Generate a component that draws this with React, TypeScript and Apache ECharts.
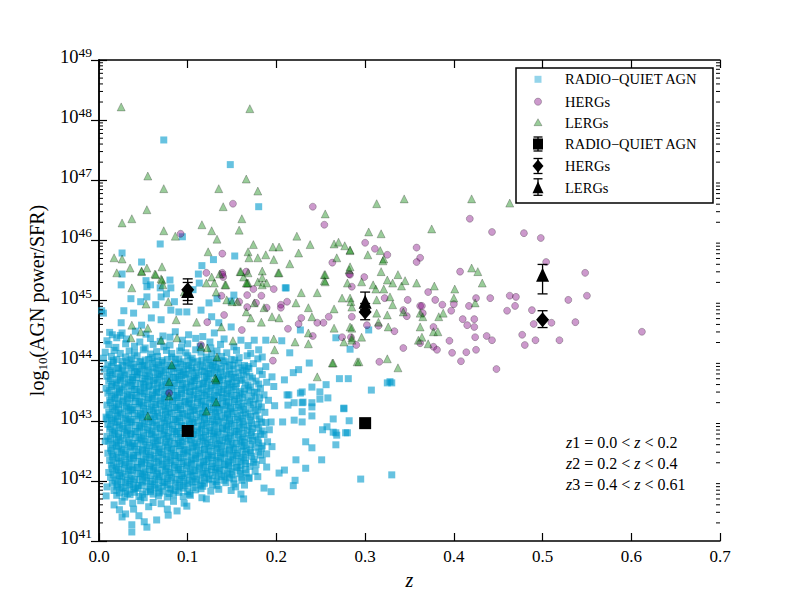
import React, { useEffect, useRef } from "react";
import * as echarts from "echarts";

const FONT = "Liberation Serif";

const xMin = 0;
const xMax = 0.7;
const yMin = 41;
const yMax = 49;

// Radio-quiet AGN: scattered points [z, log10(power/SFR)]
const blueSparse = [
  [.073,47.67],[.148,47.26],[.18,46.56],[.094,46.06],[.069,45.94],[.026,45.79],[.048,45.64],[.129,45.68],[.153,45.74],[.116,45.58],
  [.026,45.44],[.025,45.26],[.053,45.33],[.058,45.26],[.054,45.23],[.08,45.34],[.081,45.21],[.112,45.44],[.113,45.29],[.21,45.21],
  [.069,45.21],[.076,45.11],[.07,45.06],[.036,45.03],[.047,44.98],[.054,45.06],[.064,44.93],[.085,44.98],[.081,44.84],[.09,44.81],
  [.099,44.81],[.005,44.79],[.028,44.83],[.039,44.79],[.059,44.71],[.07,44.68],[.048,44.59],[.025,44.63],[.015,44.43],[.026,44.46],
  [.106,45.18],[.115,44.84],[.124,44.96],[.133,45.03],[.127,44.73],[.135,44.63],[.149,44.56],[.152,45.09],[.16,44.34],[.175,44.34],
  [.188,44.34],[.206,44.33],[.215,44.13],[.18,44.18],[.184,44.06],[.188,43.9],[.195,43.73],[.209,43.68],[.219,43.8],[.225,43.85],
  [.237,43.96],[.256,43.6],[.271,43.7],[.281,43.7],[.283,44.19],[.267,44.38],[.212,43.43],[.229,43.48],[.24,43.56],[.24,43.3],
  [.23,43.31],[.22,43.3],[.211,45.21],[.227,44.51],[.304,44.51],[.328,43.65],[.307,43.51],[.276,43.21],[.282,43.0],[.264,43.03],
  [.28,42.8],[.268,42.76],[.264,42.81],[.214,43.43],[.227,43.46],[.249,43.48],[.258,43.38],[.249,43.36],[.229,43.3],[.213,43.26],
  [.24,43.23],[.229,43.15],[.24,43.08],[.22,43.01],[.229,42.98],[.207,42.98],[.194,42.98],[.276,43.2],[.257,42.9],[.252,42.85],
  [.267,42.8],[.278,42.8],[.267,42.6],[.251,42.35],[.233,42.21],[.24,42.55],[.233,42.65],[.222,42.35],[.221,42.01],[.219,41.92],
  [.209,42.18],[.203,42.13],[.186,41.88],[.194,41.82],[.16,41.78],[.163,41.7],[.295,42.03],[.33,42.1],[.325,43.63],[.33,43.63],
  [.037,41.15],[.037,41.27],[.054,41.23],[.051,41.32],[.078,41.43],[.077,41.53],[.099,41.58],[.121,41.7],[.026,41.4],[.023,41.52],
  [.039,41.53],[.056,41.57],[.008,41.75],[.009,41.9],[.007,42.66],[.009,43.03],[.169,42.06],[.161,42.01],[.154,41.9],[.003,44.83],
  [.149,44.99],[.03,41.45],[.065,41.35],[.045,41.42],[.088,41.5],[.017,41.6]
];

// Radio-quiet AGN: dense cloud, flat list z, log, z, log ...
const blueCore = [
  .012,44.47,.024,44.42,.041,44.49,.053,44.44,.072,44.41,.086,44.48,.101,44.43,.13,44.46,.117,44.4,
  .009,44.33,.02,44.38,.031,44.36,.046,44.31,.058,44.37,.069,44.32,.08,44.39,.094,44.34,.109,44.37,.125,44.31,.141,44.36,
  .011,44.27,.019,44.22,.03,44.28,.04,44.24,.052,44.21,.061,44.27,.073,44.23,.08,44.26,.093,44.22,.1,44.28,.114,44.24,.126,44.21,.137,44.27,.152,44.23,.168,44.25,
  .007,44.14,.017,44.17,.024,44.12,.034,44.16,.04,44.13,.05,44.18,.058,44.11,.065,44.15,.076,44.17,.082,44.12,.091,44.16,.098,44.13,.109,44.18,.115,44.14,.127,44.11,.133,44.16,.144,44.13,.155,44.17,.171,44.12,
  .005,44.04,.014,44.07,.02,44.02,.03,44.06,.037,44.03,.043,44.08,.052,44.01,.06,44.05,.066,44.07,.077,44.02,.082,44.06,.09,44.03,.1,44.08,.105,44.04,.116,44.01,.121,44.06,.132,44.03,.138,44.07,.149,44.02,.158,44.05,.167,44.08,.179,44.03,
  .01,43.93,.016,43.97,.026,43.92,.031,43.96,.039,43.94,.046,43.98,.051,43.91,.06,43.95,.067,43.93,.071,43.97,.08,43.92,.087,43.96,.092,43.94,.101,43.91,.106,43.97,.114,43.93,.121,43.96,.126,43.92,.135,43.95,.142,43.98,.147,43.93,.157,43.96,.164,43.92,.174,43.95,
  .006,43.86,.013,43.83,.022,43.87,.027,43.84,.036,43.88,.043,43.82,.048,43.86,.056,43.84,.063,43.88,.07,43.83,.075,43.85,.084,43.87,.091,43.82,.096,43.86,.105,43.84,.11,43.88,.119,43.83,.124,43.86,.133,43.84,.138,43.87,.147,43.82,.152,43.86,.162,43.84,.169,43.87,.181,43.83,
  .009,43.74,.015,43.77,.024,43.73,.029,43.76,.038,43.72,.043,43.77,.052,43.75,.057,43.73,.066,43.77,.07,43.74,.079,43.76,.084,43.72,.093,43.75,.098,43.77,.107,43.73,.112,43.76,.121,43.74,.126,43.78,.135,43.72,.14,43.75,.149,43.77,.154,43.73,.163,43.76,.17,43.74,.184,43.77,
  .011,43.66,.019,43.63,.024,43.67,.033,43.64,.038,43.68,.047,43.62,.052,43.65,.061,43.67,.066,43.63,.075,43.66,.08,43.64,.089,43.68,.094,43.62,.103,43.65,.108,43.67,.117,43.63,.122,43.66,.131,43.64,.136,43.68,.145,43.62,.15,43.65,.159,43.67,.165,43.63,.177,43.66,.189,43.64,
  .008,43.54,.014,43.57,.023,43.53,.028,43.56,.037,43.58,.042,43.52,.051,43.55,.056,43.57,.065,43.53,.07,43.56,.079,43.54,.084,43.58,.093,43.52,.098,43.55,.107,43.57,.112,43.53,.121,43.56,.126,43.54,.135,43.58,.14,43.52,.149,43.55,.154,43.57,.164,43.53,.171,43.56,.182,43.54,.197,43.57,
  .01,43.46,.018,43.43,.023,43.47,.032,43.44,.037,43.42,.046,43.48,.051,43.45,.06,43.43,.065,43.47,.074,43.44,.079,43.46,.088,43.42,.093,43.45,.102,43.48,.107,43.43,.116,43.46,.121,43.44,.13,43.42,.135,43.47,.144,43.45,.149,43.43,.158,43.46,.164,43.44,.175,43.47,.186,43.43,
  .012,43.34,.018,43.37,.027,43.33,.032,43.36,.041,43.38,.046,43.32,.055,43.35,.06,43.37,.069,43.33,.074,43.36,.083,43.34,.088,43.38,.097,43.32,.102,43.35,.111,43.37,.116,43.33,.125,43.36,.13,43.34,.139,43.38,.144,43.32,.153,43.35,.158,43.37,.168,43.33,.176,43.36,.191,43.34,
  .009,43.26,.017,43.23,.022,43.27,.031,43.24,.036,43.22,.045,43.28,.05,43.25,.059,43.23,.064,43.27,.073,43.24,.078,43.26,.087,43.22,.092,43.25,.101,43.28,.106,43.23,.115,43.26,.12,43.24,.129,43.22,.134,43.27,.143,43.25,.148,43.23,.157,43.26,.163,43.24,.174,43.27,.183,43.23,.198,43.25,
  .011,43.14,.019,43.17,.024,43.13,.033,43.16,.038,43.18,.047,43.12,.052,43.15,.061,43.17,.066,43.13,.075,43.16,.08,43.14,.089,43.18,.094,43.12,.103,43.15,.108,43.17,.117,43.13,.122,43.16,.131,43.14,.136,43.18,.145,43.12,.15,43.15,.159,43.17,.165,43.13,.176,43.16,.187,43.14,
  .008,43.06,.016,43.03,.021,43.07,.03,43.04,.035,43.02,.044,43.08,.049,43.05,.058,43.03,.063,43.07,.072,43.04,.077,43.06,.086,43.02,.091,43.05,.1,43.08,.105,43.03,.114,43.06,.119,43.04,.128,43.02,.133,43.07,.142,43.05,.147,43.03,.156,43.06,.162,43.04,.171,43.07,.181,43.03,
  .01,42.94,.018,42.97,.023,42.93,.032,42.96,.037,42.98,.046,42.92,.051,42.95,.06,42.97,.065,42.93,.074,42.96,.079,42.94,.088,42.98,.093,42.92,.102,42.95,.107,42.97,.116,42.93,.121,42.96,.13,42.94,.135,42.98,.144,42.92,.149,42.95,.158,42.97,.163,42.93,.172,42.96,.178,42.94,.188,42.97,
  .012,42.86,.018,42.83,.027,42.87,.032,42.84,.041,42.82,.046,42.88,.055,42.85,.06,42.83,.069,42.87,.074,42.84,.083,42.86,.088,42.82,.097,42.85,.102,42.88,.111,42.83,.116,42.86,.125,42.84,.13,42.82,.139,42.87,.144,42.85,.153,42.83,.158,42.86,.167,42.84,.173,42.87,.184,42.83,.192,42.85,
  .009,42.74,.017,42.77,.022,42.73,.031,42.76,.036,42.78,.045,42.72,.05,42.75,.059,42.77,.064,42.73,.073,42.76,.078,42.74,.087,42.78,.092,42.72,.101,42.75,.106,42.77,.115,42.73,.12,42.76,.129,42.74,.134,42.78,.143,42.72,.148,42.75,.157,42.77,.162,42.73,.171,42.76,.177,42.74,.186,42.77,
  .011,42.66,.019,42.63,.024,42.67,.033,42.64,.038,42.62,.047,42.68,.052,42.65,.061,42.63,.066,42.67,.075,42.64,.08,42.66,.089,42.62,.094,42.65,.103,42.68,.108,42.63,.117,42.66,.122,42.64,.131,42.62,.136,42.67,.145,42.65,.15,42.63,.159,42.66,.164,42.64,.173,42.67,.18,42.63,.19,42.65,
  .013,42.54,.02,42.57,.026,42.53,.035,42.56,.04,42.58,.049,42.52,.054,42.55,.063,42.57,.068,42.53,.077,42.56,.082,42.54,.091,42.58,.096,42.52,.105,42.55,.11,42.57,.119,42.53,.124,42.56,.133,42.54,.138,42.58,.147,42.52,.152,42.55,.161,42.57,.166,42.53,.176,42.56,.183,42.54,.195,42.57,
  .01,42.46,.016,42.43,.025,42.47,.03,42.44,.039,42.42,.044,42.48,.053,42.45,.058,42.43,.067,42.47,.072,42.44,.081,42.46,.086,42.42,.095,42.45,.1,42.48,.109,42.43,.114,42.46,.123,42.44,.128,42.42,.137,42.47,.142,42.45,.151,42.43,.156,42.46,.165,42.44,.171,42.47,.182,42.43,.189,42.45,
  .012,42.34,.02,42.37,.025,42.33,.034,42.36,.039,42.38,.048,42.32,.053,42.35,.062,42.37,.067,42.33,.076,42.36,.081,42.34,.09,42.38,.095,42.32,.104,42.35,.109,42.37,.118,42.33,.123,42.36,.132,42.34,.137,42.38,.146,42.32,.151,42.35,.16,42.37,.165,42.33,.175,42.36,.184,42.34,
  .014,42.26,.02,42.23,.029,42.27,.034,42.24,.043,42.22,.048,42.28,.057,42.25,.062,42.23,.071,42.27,.076,42.24,.085,42.26,.09,42.22,.099,42.25,.104,42.28,.113,42.23,.118,42.26,.127,42.24,.132,42.22,.141,42.27,.146,42.25,.155,42.23,.16,42.26,.17,42.24,.177,42.27,.189,42.23,
  .011,42.14,.019,42.17,.024,42.13,.033,42.16,.038,42.18,.047,42.12,.052,42.15,.061,42.17,.066,42.13,.075,42.16,.08,42.14,.089,42.18,.094,42.12,.103,42.15,.108,42.17,.117,42.13,.122,42.16,.131,42.14,.136,42.18,.145,42.12,.15,42.15,.159,42.17,.166,42.13,.176,42.16,
  .013,42.06,.021,42.03,.026,42.07,.035,42.04,.04,42.02,.049,42.08,.054,42.05,.063,42.03,.068,42.07,.077,42.04,.082,42.06,.091,42.02,.096,42.05,.105,42.08,.11,42.03,.119,42.06,.124,42.04,.133,42.02,.138,42.07,.147,42.05,.152,42.03,.161,42.06,.169,42.04,.179,42.07,
  .015,41.96,.021,41.93,.03,41.97,.035,41.94,.044,41.92,.049,41.98,.058,41.95,.063,41.93,.072,41.97,.077,41.94,.086,41.96,.091,41.92,.1,41.95,.105,41.98,.114,41.93,.119,41.96,.128,41.94,.133,41.92,.143,41.97,.152,41.95,.164,41.93,
  .017,41.84,.025,41.87,.03,41.83,.039,41.86,.044,41.88,.053,41.82,.058,41.85,.067,41.87,.072,41.83,.081,41.86,.086,41.84,.095,41.88,.1,41.82,.109,41.85,.115,41.87,.126,41.83,.135,41.86,.149,41.84,
  .02,41.76,.029,41.73,.035,41.77,.045,41.74,.051,41.72,.061,41.78,.067,41.75,.077,41.73,.084,41.77,.095,41.74,.103,41.76,.116,41.72,
  .026,41.66,.038,41.63,.047,41.67,.061,41.64,.07,41.62,.084,41.66,.096,41.63
];

// Radio-quiet AGN: densest part of the cloud (second layer), flat list z, log ...
const blueDense = [
  .016,44.0,.027,43.99,.035,44.01,.047,43.98,.056,44.02,.063,43.99,.071,44.0,.086,44.02,.095,43.98,.103,44.01,.111,43.99,.124,44.02,.129,43.98,.14,44.0,.153,44.01,
  .014,43.9,.021,43.88,.033,43.91,.041,43.89,.049,43.92,.055,43.9,.065,43.88,.073,43.91,.081,43.9,.088,43.89,.099,43.92,.104,43.88,.117,43.9,.128,43.91,.131,43.89,.143,43.9,.151,43.92,.16,43.88,.168,43.9,
  .012,43.8,.019,43.79,.026,43.81,.034,43.78,.04,43.82,.046,43.8,.054,43.79,.061,43.81,.068,43.78,.073,43.8,.082,43.82,.089,43.79,.095,43.81,.101,43.78,.109,43.8,.116,43.82,.123,43.79,.13,43.8,.137,43.81,.144,43.78,.157,43.8,.166,43.81,
  .013,43.7,.021,43.69,.027,43.71,.035,43.68,.042,43.72,.049,43.7,.055,43.69,.063,43.71,.068,43.68,.077,43.7,.086,43.72,.091,43.69,.097,43.71,.105,43.68,.11,43.7,.119,43.72,.124,43.69,.133,43.71,.139,43.68,.146,43.7,.152,43.72,.161,43.69,.173,43.71,
  .015,43.6,.02,43.59,.029,43.61,.036,43.58,.041,43.62,.05,43.6,.057,43.59,.062,43.61,.071,43.58,.076,43.6,.085,43.62,.092,43.59,.099,43.61,.104,43.58,.113,43.6,.118,43.62,.127,43.59,.133,43.61,.141,43.58,.147,43.6,.155,43.62,.168,43.59,.18,43.61,
  .012,43.5,.02,43.49,.026,43.51,.034,43.48,.04,43.52,.047,43.5,.054,43.49,.061,43.51,.067,43.48,.075,43.5,.082,43.52,.088,43.49,.096,43.51,.103,43.48,.109,43.5,.117,43.52,.124,43.49,.131,43.51,.138,43.48,.145,43.5,.152,43.52,.16,43.49,.169,43.51,.178,43.48,
  .014,43.4,.021,43.39,.028,43.41,.035,43.38,.042,43.42,.049,43.4,.056,43.39,.063,43.41,.07,43.38,.077,43.4,.084,43.42,.091,43.39,.098,43.41,.105,43.38,.112,43.4,.119,43.42,.126,43.39,.133,43.41,.14,43.38,.147,43.4,.155,43.42,.162,43.39,.172,43.41,.181,43.38,
  .013,43.3,.02,43.29,.027,43.31,.034,43.28,.041,43.32,.048,43.3,.055,43.29,.062,43.31,.069,43.28,.076,43.3,.083,43.32,.09,43.29,.097,43.31,.104,43.28,.111,43.3,.118,43.32,.125,43.29,.132,43.31,.139,43.28,.146,43.3,.153,43.32,.161,43.29,.17,43.31,.18,43.28,
  .015,43.2,.022,43.19,.029,43.21,.036,43.18,.043,43.22,.05,43.2,.057,43.19,.064,43.21,.071,43.18,.078,43.2,.085,43.22,.092,43.19,.099,43.21,.106,43.18,.113,43.2,.12,43.22,.127,43.19,.134,43.21,.141,43.18,.148,43.2,.155,43.22,.163,43.19,.171,43.21,.179,43.18,
  .012,43.1,.019,43.09,.026,43.11,.033,43.08,.04,43.12,.047,43.1,.054,43.09,.061,43.11,.068,43.08,.075,43.1,.082,43.12,.089,43.09,.096,43.11,.103,43.08,.11,43.1,.117,43.12,.124,43.09,.131,43.11,.138,43.08,.145,43.1,.152,43.12,.16,43.09,.168,43.11,.177,43.08,
  .014,43.0,.021,42.99,.028,43.01,.035,42.98,.042,43.02,.049,43.0,.056,42.99,.063,43.01,.07,42.98,.077,43.0,.084,43.02,.091,42.99,.098,43.01,.105,42.98,.112,43.0,.119,43.02,.126,42.99,.133,43.01,.14,42.98,.147,43.0,.154,43.02,.162,42.99,.17,43.01,.183,42.98,
  .013,42.9,.02,42.89,.027,42.91,.034,42.88,.041,42.92,.048,42.9,.055,42.89,.062,42.91,.069,42.88,.076,42.9,.083,42.92,.09,42.89,.097,42.91,.104,42.88,.111,42.9,.118,42.92,.125,42.89,.132,42.91,.139,42.88,.146,42.9,.153,42.92,.161,42.89,.169,42.91,.18,42.88,
  .015,42.8,.022,42.79,.029,42.81,.036,42.78,.043,42.82,.05,42.8,.057,42.79,.064,42.81,.071,42.78,.078,42.8,.085,42.82,.092,42.79,.099,42.81,.106,42.78,.113,42.8,.12,42.82,.127,42.79,.134,42.81,.141,42.78,.148,42.8,.155,42.82,.163,42.79,.172,42.81,.182,42.78,
  .013,42.7,.02,42.69,.027,42.71,.034,42.68,.041,42.72,.048,42.7,.055,42.69,.062,42.71,.069,42.68,.076,42.7,.083,42.72,.09,42.69,.097,42.71,.104,42.68,.111,42.7,.118,42.72,.125,42.69,.132,42.71,.139,42.68,.146,42.7,.153,42.72,.161,42.69,.169,42.71,.179,42.68,
  .015,42.6,.022,42.59,.029,42.61,.036,42.58,.043,42.62,.05,42.6,.057,42.59,.064,42.61,.071,42.58,.078,42.6,.085,42.62,.092,42.59,.099,42.61,.106,42.58,.113,42.6,.12,42.62,.127,42.59,.134,42.61,.141,42.58,.148,42.6,.155,42.62,.163,42.59,.171,42.61,.184,42.58,
  .014,42.5,.021,42.49,.028,42.51,.035,42.48,.042,42.52,.049,42.5,.056,42.49,.063,42.51,.07,42.48,.077,42.5,.084,42.52,.091,42.49,.098,42.51,.105,42.48,.112,42.5,.119,42.52,.126,42.49,.133,42.51,.14,42.48,.147,42.5,.154,42.52,.162,42.49,.17,42.51,.18,42.48,
  .015,42.4,.022,42.39,.029,42.41,.036,42.38,.043,42.42,.05,42.4,.057,42.39,.064,42.41,.071,42.38,.078,42.4,.085,42.42,.092,42.39,.099,42.41,.106,42.38,.113,42.4,.12,42.42,.127,42.39,.134,42.41,.141,42.38,.148,42.4,.155,42.42,.163,42.39,.172,42.41,
  .016,42.3,.023,42.29,.03,42.31,.037,42.28,.044,42.32,.051,42.3,.058,42.29,.065,42.31,.072,42.28,.079,42.3,.086,42.32,.093,42.29,.1,42.31,.107,42.28,.114,42.3,.121,42.32,.128,42.29,.135,42.31,.142,42.28,.149,42.3,.157,42.32,.165,42.29,.174,42.31,
  .015,42.2,.022,42.19,.029,42.21,.036,42.18,.043,42.22,.05,42.2,.057,42.19,.064,42.21,.071,42.18,.078,42.2,.085,42.22,.092,42.19,.099,42.21,.106,42.18,.113,42.2,.12,42.22,.127,42.19,.134,42.21,.141,42.18,.148,42.2,.156,42.22,.165,42.19,
  .016,42.1,.023,42.09,.03,42.11,.037,42.08,.044,42.12,.051,42.1,.058,42.09,.065,42.11,.072,42.08,.079,42.1,.086,42.12,.093,42.09,.1,42.11,.107,42.08,.114,42.1,.121,42.12,.128,42.09,.135,42.11,.142,42.08,.15,42.1,.159,42.12,
  .018,42.0,.025,41.99,.032,42.01,.039,41.98,.046,42.02,.053,42.0,.06,41.99,.067,42.01,.074,41.98,.081,42.0,.088,42.02,.095,41.99,.102,42.01,.109,41.98,.116,42.0,.124,42.02,.132,41.99,.141,42.01,
  .02,41.9,.027,41.89,.034,41.91,.041,41.88,.048,41.92,.056,41.9,.064,41.89,.072,41.91,.08,41.88,.089,41.9,.097,41.92,.106,41.89,.117,41.91,
  .023,41.8,.032,41.79,.04,41.81,.049,41.78,.058,41.82,.068,41.8,.079,41.79,.09,41.81,.102,41.78
];

const hergs = [
  [.092,46.11],[.151,46.61],[.241,46.56],[.254,46.26],[.263,45.63],[.282,45.44],[.139,45.78],[.121,45.46],[.139,45.46],[.14,45.39],
  [.166,45.48],[.174,45.19],[.197,45.19],[.285,45.23],[.418,46.36],[.443,46.14],[.479,46.12],[.498,46.04],[.3,45.96],[.311,45.86],
  [.325,45.76],[.358,45.88],[.362,45.71],[.358,45.64],[.504,45.64],[.548,45.46],[.407,45.48],[.299,45.39],[.371,45.14],[.379,45.01],
  [.348,45.01],[.322,45.04],[.425,45.04],[.441,45.04],[.463,45.08],[.47,45.06],[.529,45.01],[.362,44.91],[.387,44.93],[.4,44.94],
  [.417,44.91],[.397,44.83],[.46,44.83],[.469,44.91],[.488,44.84],[.49,44.61],[.51,44.63],[.537,44.64],[.612,44.48],[.41,44.69],
  [.423,44.69],[.415,44.59],[.423,44.56],[.437,44.41],[.443,44.34],[.424,44.39],[.477,44.43],[.492,44.34],[.519,44.34],[.48,44.26],
  [.285,44.73],[.302,44.59],[.315,44.58],[.333,44.49],[.343,44.21],[.362,44.29],[.377,44.56],[.377,44.23],[.381,44.18],[.395,44.33],
  [.398,44.13],[.414,44.14],[.425,44.18],[.408,43.99],[.316,43.98],[.448,43.86],[.343,44.84],[.347,44.74],[.364,44.91],[.365,44.79],
  [.079,43.46],[.161,44.51],[.196,44.0],[.115,44.26],[.141,44.76],[.138,45.08],[.122,44.64],[.213,44.53],[.167,45.09],[.177,44.96],
  [.205,44.93],[.212,44.98],[.183,45.08],[.167,44.89],[.158,44.98],[.225,44.61],[.228,44.71],[.246,44.63],[.241,44.41],[.253,44.63],
  [.259,44.73],[.274,44.39],[.29,44.26],[.283,45.43],[.284,44.39],[.139,45.43],[.189,44.88],[.205,44.88],[.55,45.08]
];

const lergs = [
  [.025,48.22],[.17,48.19],[.055,47.07],[.073,46.86],[.054,46.51],[.135,46.86],[.166,47.02],[.179,46.82],[.14,46.56],[.255,46.44],
  [.026,46.29],[.037,46.36],[.161,46.36],[.116,46.26],[.073,46.16],[.086,46.07],[.127,46.16],[.133,46.02],[.158,46.17],[.223,46.07],
  [.238,45.93],[.174,45.93],[.196,45.89],[.203,45.89],[.265,45.94],[.27,45.97],[.277,45.91],[.283,45.83],[.225,45.79],[.168,45.81],
  [.123,45.81],[.017,45.71],[.026,45.69],[.035,45.54],[.02,45.46],[.048,45.49],[.054,45.54],[.063,45.44],[.071,45.56],[.07,45.36],
  [.072,45.26],[.169,45.71],[.179,45.71],[.188,45.76],[.197,45.68],[.159,45.48],[.168,45.46],[.184,45.49],[.202,45.46],[.215,45.61],
  [.268,45.71],[.282,45.51],[.254,45.43],[.254,45.33],[.28,45.29],[.136,45.44],[.127,45.39],[.142,45.26],[.168,45.29],[.179,45.31],
  [.189,45.29],[.163,45.39],[.037,45.21],[.121,45.29],[.313,46.61],[.344,46.69],[.42,46.69],[.463,46.62],[.375,46.19],[.304,46.14],
  [.318,46.11],[.283,45.84],[.303,45.76],[.317,45.83],[.321,45.69],[.32,45.66],[.283,45.56],[.42,45.54],[.427,45.48],[.432,45.29],
  [.318,45.48],[.337,45.43],[.325,45.34],[.331,45.29],[.345,45.33],[.341,45.24],[.358,45.29],[.296,45.31],[.309,45.26],[.378,45.24],
  [.401,45.19],[.4,45.04],[.274,45.04],[.283,45.04],[.285,44.89],[.312,45.19],[.321,45.19],[.328,45.06],[.331,44.93],[.313,45.01],
  [.313,44.79],[.325,44.76],[.315,44.64],[.343,44.81],[.362,44.79],[.365,44.73],[.383,44.73],[.388,44.79],[.424,44.96],[.283,44.56],
  [.296,44.39],[.285,44.34],[.326,44.56],[.362,44.56],[.364,44.39],[.377,44.48],[.382,44.48],[.371,44.28],[.36,44.34],[.291,43.98],
  [.325,44.03],[.337,43.88],[.264,43.96],[.053,44.94],[.078,44.98],[.087,44.68],[.037,44.59],[.055,44.54],[.036,44.38],[.07,44.34],
  [.088,44.38],[.047,44.48],[.11,44.64],[.115,44.23],[.122,44.21],[.133,44.06],[.082,43.93],[.079,43.65],[.131,43.71],[.138,44.56],
  [.151,44.33],[.197,44.36],[.198,44.18],[.221,44.31],[.246,43.73],[.263,43.96],[.246,45.13],[.228,45.13],[.24,44.73],[.236,44.46],
  [.236,44.28],[.079,43.41],[.055,43.08],[.121,43.16],[.132,43.31],[.132,43.68],[.048,45.48],[.064,45.43],[.071,45.34],[.096,45.14],
  [.13,45.29],[.143,45.26],[.16,45.48],[.167,45.29],[.184,45.38],[.203,45.46],[.132,45.14],[.144,45.01],[.15,44.98],[.156,44.98],
  [.175,44.96],[.186,44.88],[.195,44.73],[.203,44.71],[.222,44.96],[.236,44.88],[.255,45.43],[.255,45.31],[.284,44.98],[.265,44.86],
  [.265,44.54],[.285,44.54],[.285,44.38],[.276,44.31],[.183,44.64],[.171,44.71],[.166,44.81],[.166,45.29],[.184,45.26],[.293,43.98]
];

// Binned means: [z, value, lower, upper]
const meanRQ = [[0.1, 42.83, 42.81, 42.85], [0.3, 42.96, 42.93, 42.99]];
const meanHERG = [[0.1, 45.18, 45.0, 45.3], [0.3, 44.81, 44.68, 44.95], [0.5, 44.68, 44.55, 44.83]];
const meanLERG = [[0.1, 45.16, 44.94, 45.36], [0.3, 44.98, 44.85, 45.14], [0.5, 45.43, 45.11, 45.6]];

const legendLabels = ["RADIO\u2212QUIET AGN", "HERGs", "LERGs", "RADIO\u2212QUIET AGN", "HERGs", "LERGs"];
const zBins = [["1", "0.0", "0.2"], ["2", "0.2", "0.4"], ["3", "0.4", "0.61"]];

const BLUE = "rgb(0,153,204)";

function pairs(flat: number[]) {
  const out: number[][] = [];
  for (let i = 0; i + 1 < flat.length; i += 2) out.push([flat[i], flat[i + 1]]);
  return out;
}

function minorTickValues() {
  const out: number[][] = [];
  for (let n = yMin; n < yMax; n++) {
    for (let k = 2; k <= 9; k++) out.push([0, n + Math.log10(k)]);
  }
  return out;
}

function errorBarSeries(data: number[][]) {
  return {
    type: "custom",
    z: 4,
    silent: true,
    encode: { x: 0, y: [1, 2, 3] },
    data,
    renderItem: (params: any, api: any) => {
      const x = api.value(0);
      const lo = api.coord([x, api.value(2)]);
      const hi = api.coord([x, api.value(3)]);
      const cw = 5;
      const st = { stroke: "#000", lineWidth: 1.3 };
      return {
        type: "group",
        children: [
          { type: "line", shape: { x1: lo[0], y1: lo[1], x2: hi[0], y2: hi[1] }, style: st },
          { type: "line", shape: { x1: lo[0] - cw, y1: lo[1], x2: lo[0] + cw, y2: lo[1] }, style: st },
          { type: "line", shape: { x1: hi[0] - cw, y1: hi[1], x2: hi[0] + cw, y2: hi[1] }, style: st },
        ],
      };
    },
  };
}

function buildLegend() {
  const rows = [79.3, 101.7, 122.7, 144, 166, 188.3];
  const mx = 538;
  const tx = 565;
  const els: any[] = [
    { type: "rect", shape: { x: 516, y: 68, width: 197, height: 135 }, style: { fill: "#fff", stroke: "#000", lineWidth: 1.5 }, z: 100 },
    { type: "rect", shape: { x: mx - 3.5, y: rows[0] - 3.5, width: 7, height: 7 }, style: { fill: BLUE, opacity: 0.42 }, z: 101 },
    { type: "circle", shape: { cx: mx, cy: rows[1], r: 3.6 }, style: { fill: "purple", stroke: "#000", lineWidth: 0.6, opacity: 0.4 }, z: 101 },
    { type: "polygon", shape: { points: [[mx, rows[2] - 4], [mx + 4, rows[2] + 3], [mx - 4, rows[2] + 3]] }, style: { fill: "green", stroke: "#000", lineWidth: 0.6, opacity: 0.4 }, z: 101 },
  ];
  const bar = (cy: number, up: number, dn: number) => {
    const st = { stroke: "#000", lineWidth: 1.3 };
    els.push({ type: "line", shape: { x1: mx, y1: cy - up, x2: mx, y2: cy + dn }, style: st, z: 101 });
    els.push({ type: "line", shape: { x1: mx - 4.5, y1: cy - up, x2: mx + 4.5, y2: cy - up }, style: st, z: 101 });
    els.push({ type: "line", shape: { x1: mx - 4.5, y1: cy + dn, x2: mx + 4.5, y2: cy + dn }, style: st, z: 101 });
  };
  bar(rows[3], 7, 7);
  els.push({ type: "rect", shape: { x: mx - 5, y: rows[3] - 5.5, width: 10, height: 11 }, style: { fill: "#000" }, z: 102 });
  bar(rows[4], 7.5, 7.5);
  els.push({ type: "polygon", shape: { points: [[mx, rows[4] - 6.5], [mx + 5.5, rows[4]], [mx, rows[4] + 6.5], [mx - 5.5, rows[4]]] }, style: { fill: "#000" }, z: 102 });
  bar(rows[5], 9.5, 7);
  els.push({ type: "polygon", shape: { points: [[mx, rows[5] - 7], [mx + 5.5, rows[5] + 5], [mx - 5.5, rows[5] + 5]] }, style: { fill: "#000" }, z: 102 });
  legendLabels.forEach((t, i) => {
    els.push({
      type: "text",
      x: tx,
      y: rows[i],
      z: 102,
      style: { text: t, fill: "#000", font: `14.5px "${FONT}"`, textVerticalAlign: "middle", textAlign: "left" },
    });
  });
  const lineY = [442, 463, 484];
  zBins.forEach((b, i) => {
    els.push({
      type: "text",
      x: 566,
      y: lineY[i],
      z: 102,
      style: {
        text: `{i|z}{n|${b[0]} = ${b[1]} < }{i|z}{n| < ${b[2]}}`,
        textVerticalAlign: "middle",
        textAlign: "left",
        rich: {
          i: { fontFamily: FONT, fontSize: 16, fontStyle: "italic", fill: "#000" },
          n: { fontFamily: FONT, fontSize: 16, fill: "#000" },
        },
      },
    });
  });
  return els;
}

export default function App() {
  const ref = useRef<HTMLDivElement>(null);
  useEffect(() => {
    if (!ref.current) return;
    const chart = echarts.init(ref.current, undefined, { renderer: "svg" });
    const bluePoints = [...blueSparse, ...pairs(blueCore), ...pairs(blueDense)];
    const axisLine = { show: true, lineStyle: { color: "#000", width: 1.5 } };
    const tick = { show: true, inside: true, length: 8, lineStyle: { color: "#000", width: 1.2 } };
    const option: any = {
      animation: false,
      backgroundColor: "#fff",
      grid: { left: 99, top: 60, width: 621, height: 481, containLabel: false },
      xAxis: [
        {
          type: "value", min: xMin, max: xMax, interval: 0.1, position: "bottom",
          axisLine, axisTick: tick, splitLine: { show: false },
          axisLabel: { formatter: (v: number) => v.toFixed(1), color: "#000", fontFamily: FONT, fontSize: 17, margin: 7 },
          name: "z", nameLocation: "middle", nameGap: 27,
          nameTextStyle: { fontFamily: FONT, fontSize: 20, fontStyle: "italic", color: "#000" },
        },
        {
          type: "value", min: xMin, max: xMax, interval: 0.1, position: "top",
          axisLine, axisTick: tick, splitLine: { show: false }, axisLabel: { show: false },
        },
      ],
      yAxis: [
        {
          type: "value", min: yMin, max: yMax, interval: 1, position: "left",
          axisLine, axisTick: tick, splitLine: { show: false },
          axisLabel: {
            formatter: (v: number) => `{b|10}{s|${v}}`,
            margin: 7,
            padding: [0, 0, 8, 0],
            rich: {
              b: { fontFamily: FONT, fontSize: 18.5, color: "#000", lineHeight: 21, verticalAlign: "bottom" },
              s: { fontFamily: FONT, fontSize: 13.5, color: "#000", lineHeight: 13, verticalAlign: "top" },
            },
          },
          name: "{a|log}{sub|10}{a|(AGN power/SFR)}",
          nameLocation: "middle",
          nameGap: 48,
          nameTextStyle: {
            rich: {
              a: { fontFamily: FONT, fontSize: 20, color: "#000", lineHeight: 22, verticalAlign: "top" },
              sub: { fontFamily: FONT, fontSize: 13, color: "#000", lineHeight: 12, verticalAlign: "bottom" },
            },
          },
        },
        {
          type: "value", min: yMin, max: yMax, interval: 1, position: "right",
          axisLine, axisTick: tick, splitLine: { show: false }, axisLabel: { show: false },
        },
      ],
      series: [
        {
          type: "scatter", name: "rq", data: bluePoints, symbol: "rect", symbolSize: 7,
          itemStyle: { color: BLUE, opacity: 0.6, borderWidth: 0 }, z: 2, silent: true,
          progressive: 0, large: false,
        },
        {
          type: "scatter", name: "herg", data: hergs, symbol: "circle", symbolSize: 7,
          itemStyle: { color: "purple", opacity: 0.4, borderColor: "#000", borderWidth: 0.6 }, z: 3, silent: true,
        },
        {
          type: "scatter", name: "lerg", data: lergs, symbol: "triangle", symbolSize: 8,
          itemStyle: { color: "green", opacity: 0.4, borderColor: "#000", borderWidth: 0.6 }, z: 3, silent: true,
        },
        errorBarSeries(meanRQ),
        errorBarSeries(meanHERG),
        errorBarSeries(meanLERG),
        {
          type: "scatter", data: meanRQ.map((d) => [d[0], d[1]]), symbol: "rect", symbolSize: 12,
          itemStyle: { color: "#000", opacity: 1 }, z: 5, silent: true,
        },
        {
          type: "scatter", data: meanHERG.map((d) => [d[0], d[1]]), symbol: "diamond", symbolSize: [13, 15],
          itemStyle: { color: "#000", opacity: 1 }, z: 5, silent: true,
        },
        {
          type: "scatter", data: meanLERG.map((d) => [d[0], d[1]]), symbol: "triangle", symbolSize: [13, 14],
          itemStyle: { color: "#000", opacity: 1 }, z: 5, silent: true,
        },
        {
          type: "custom", silent: true, z: 6, data: minorTickValues(), encode: { x: 0, y: 1 },
          renderItem: (params: any, api: any) => {
            const cs = params.coordSys;
            const p = api.coord([0, api.value(1)]);
            const st = { stroke: "#000", lineWidth: 1 };
            return {
              type: "group",
              children: [
                { type: "line", shape: { x1: cs.x, y1: p[1], x2: cs.x + 4, y2: p[1] }, style: st },
                { type: "line", shape: { x1: cs.x + cs.width - 4, y1: p[1], x2: cs.x + cs.width, y2: p[1] }, style: st },
              ],
            };
          },
        },
      ],
      graphic: buildLegend(),
    };
    chart.setOption(option);
    return () => chart.dispose();
  }, []);
  return <div ref={ref} style={{ position: "absolute", left: 0, top: 0, width: 800, height: 600 }} />;
}
